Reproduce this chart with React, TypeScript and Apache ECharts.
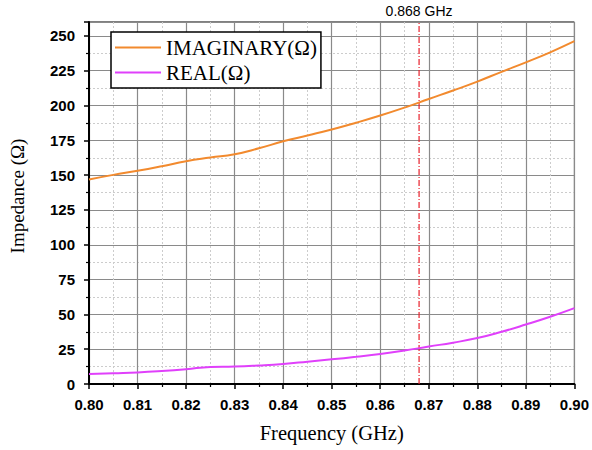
import React, { useEffect, useRef } from "react";
import * as echarts from "echarts";

const freq = [0.8, 0.805, 0.81, 0.815, 0.82, 0.825, 0.83, 0.835, 0.84, 0.845, 0.85, 0.855, 0.86, 0.865, 0.87, 0.875, 0.88, 0.885, 0.89, 0.895, 0.9];
const imaginary = [146.9, 150.2, 153.1, 156.4, 160, 162.6, 165, 169.3, 174.3, 178.5, 182.8, 187.6, 192.8, 198.5, 204.7, 210.8, 217.2, 224.2, 231, 238.2, 246.2];
const real = [7.1, 7.7, 8.3, 9.3, 10.6, 12.2, 12.5, 13.3, 14.4, 16, 17.7, 19.5, 21.5, 24, 26.9, 29.7, 33, 37.5, 42.7, 48.3, 54.5];
const markerFreq = 0.868;
const markerLabel = "0.868 GHz";
const seriesNames = ["IMAGINARY(Ω)", "REAL(Ω)"];
const yMin = 0;
const yMax = 260;

export default function App() {
  const ref = useRef<HTMLDivElement>(null);
  useEffect(() => {
    const chart = echarts.init(ref.current!, null, { renderer: "svg" });
    const tickFont = { fontFamily: "Liberation Sans", fontWeight: "bold" as const, fontSize: 15, color: "#000" };
    const legendIcon = "path://M0 0 H46 V2 H0 Z";
    chart.setOption({
      animation: false,
      grid: { left: 87, right: 16, top: 22, bottom: 66, show: true, borderColor: "#000", borderWidth: 1, backgroundColor: "transparent" },
      legend: {
        left: 111,
        top: 32,
        orient: "vertical",
        backgroundColor: "#fff",
        borderColor: "#000",
        borderWidth: 1.5,
        borderRadius: 0,
        padding: [5, 4, 5, 4],
        itemWidth: 46,
        itemHeight: 16,
        itemGap: 4,
        textStyle: { fontFamily: "Liberation Serif", fontSize: 21, lineHeight: 20, color: "#000" },
        data: [
          { name: seriesNames[0], icon: legendIcon },
          { name: seriesNames[1], icon: legendIcon },
        ],
      },
      xAxis: {
        type: "value",
        min: 0.8,
        max: 0.9,
        interval: 0.01,
        name: "Frequency (GHz)",
        nameLocation: "middle",
        nameGap: 38,
        nameTextStyle: { fontFamily: "Liberation Serif", fontSize: 20.5, color: "#000" },
        axisLine: { show: true, onZero: false, lineStyle: { color: "#000", width: 2 } },
        axisTick: { show: true, length: 5, lineStyle: { color: "#000", width: 1.5 } },
        minorTick: { show: true, splitNumber: 2, length: 3, lineStyle: { color: "#000", width: 1.2 } },
        axisLabel: { ...tickFont, margin: 13, formatter: (v: number) => v.toFixed(2) },
        splitLine: { show: true, lineStyle: { color: "#8a8a8a", width: 1.2 } },
        minorSplitLine: { show: true, lineStyle: { color: "#cccccc", width: 1, type: [2, 2] } },
      },
      yAxis: {
        type: "value",
        min: yMin,
        max: yMax,
        interval: 25,
        name: "Impedance (Ω)",
        nameLocation: "middle",
        nameGap: 62,
        nameTextStyle: { fontFamily: "Liberation Serif", fontSize: 19, color: "#000", padding: [0, 0, 0, 14] },
        axisLine: { show: true, lineStyle: { color: "#000", width: 2 } },
        axisTick: { show: true, length: 5, lineStyle: { color: "#000", width: 1.5 } },
        minorTick: { show: true, splitNumber: 2, length: 3, lineStyle: { color: "#000", width: 1.2 } },
        axisLabel: {
          ...tickFont,
          margin: 14,
          showMaxLabel: false,
          formatter: (v: number) => (v % 25 === 0 ? String(v) : ""),
        },
        splitLine: { show: true, lineStyle: { color: "#8a8a8a", width: 1.2 } },
        minorSplitLine: { show: true, lineStyle: { color: "#cccccc", width: 1, type: [2, 2] } },
      },
      series: [
        {
          name: "marker",
          type: "line",
          symbol: "none",
          silent: true,
          z: 1,
          lineStyle: { color: "#e8202a", width: 1.2, type: [6, 2, 1, 2] },
          data: [
            [markerFreq, yMin],
            [markerFreq, yMax],
          ],
        },
        {
          name: seriesNames[0],
          type: "line",
          smooth: true,
          symbol: "none",
          z: 3,
          lineStyle: { color: "#f28a2e", width: 2 },
          itemStyle: { color: "#f28a2e" },
          data: freq.map((f, i) => [f, imaginary[i]]),
        },
        {
          name: seriesNames[1],
          type: "line",
          smooth: true,
          symbol: "none",
          z: 3,
          lineStyle: { color: "#e040fb", width: 2 },
          itemStyle: { color: "#e040fb" },
          data: freq.map((f, i) => [f, real[i]]),
        },
      ],
    });
    const top = chart.convertToPixel({ gridIndex: 0 }, [markerFreq, yMax]) as number[];
    chart.setOption({
      graphic: [
        {
          type: "text",
          x: top[0],
          y: top[1] - 4,
          style: {
            text: markerLabel,
            fontFamily: "Liberation Sans",
            fontSize: 14,
            fill: "#000",
            align: "center",
            verticalAlign: "bottom",
          },
        },
      ],
    });
    return () => chart.dispose();
  }, []);
  return <div ref={ref} style={{ width: 592, height: 450, position: "absolute", left: 0, top: 0 }} />;
}
